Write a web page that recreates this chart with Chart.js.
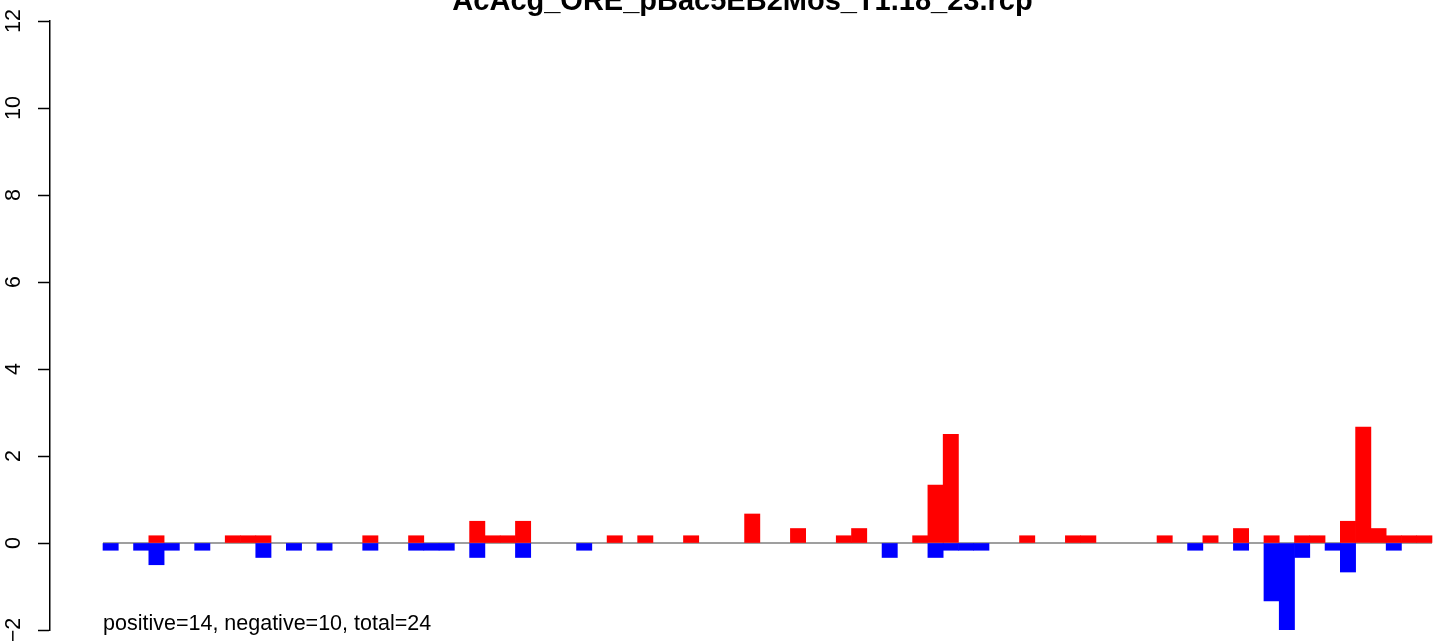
<!DOCTYPE html>
<html>
<head>
<meta charset="utf-8">
<script src="https://cdn.jsdelivr.net/npm/chart.js@4.4.1/dist/chart.umd.min.js"></script>
<style>
  html, body { margin: 0; padding: 0; background: #fff; overflow: hidden; width: 1447px; height: 641px; }
  #wrap { position: absolute; left: 0; top: -15px; }
</style>
</head>
<body>
<div id="wrap"><canvas id="chart" width="1534" height="675"></canvas></div>
<script>
// --- DATA ---
const chartTitle = 'AcAcg_ORE_pBac5EB2Mos_T1.18_23.rcp';
const summaryText = 'positive=14, negative=10, total=24';

// one value per bin, bins 0..86
const positiveVals = [
  0, 0, 0, 0.167, 0, 0, 0, 0, 0.167, 0.167,
  0.167, 0, 0, 0, 0, 0, 0, 0.167, 0, 0,
  0.167, 0, 0, 0, 0.5, 0.167, 0.167, 0.5, 0, 0,
  0, 0, 0, 0.167, 0, 0.167, 0, 0, 0.167, 0,
  0, 0, 0.667, 0, 0, 0.333, 0, 0, 0.167, 0.333,
  0, 0, 0, 0.167, 1.333, 2.5, 0, 0, 0, 0,
  0.167, 0, 0, 0.167, 0.167, 0, 0, 0, 0, 0.167,
  0, 0, 0.167, 0, 0.333, 0, 0.167, 0, 0.167, 0.167,
  0, 0.5, 2.667, 0.333, 0.167, 0.167, 0.167
];
const negativeVals = [
  -0.167, 0, -0.167, -0.5, -0.167, 0, -0.167, 0, 0, 0,
  -0.333, 0, -0.167, 0, -0.167, 0, 0, -0.167, 0, 0,
  -0.167, -0.167, -0.167, 0, -0.333, 0, 0, -0.333, 0, 0,
  0, -0.167, 0, 0, 0, 0, 0, 0, 0, 0,
  0, 0, 0, 0, 0, 0, 0, 0, 0, 0,
  0, -0.333, 0, 0, -0.333, -0.167, -0.167, -0.167, 0, 0,
  0, 0, 0, 0, 0, 0, 0, 0, 0, 0,
  0, -0.167, 0, 0, -0.167, 0, -1.333, -2, -0.333, 0,
  -0.167, -0.667, 0, 0, -0.167, 0, 0
];
const bins = positiveVals.map((_, i) => i);
const yTicks = [-2, 0, 2, 4, 6, 8, 10, 12];
const xRange = [-3.97, 89.97];

// --- CHART ---
Chart.defaults.font.family = '"Liberation Sans", Arial, Helvetica, sans-serif';
Chart.defaults.color = '#000';

const toPoints = vals => vals.map((v, i) => ({ x: bins[i], y: v === 0 ? null : v }));

const summaryPlugin = {
  id: 'summary',
  afterDatasetsDraw(chart) {
    const { ctx, scales: { x, y } } = chart;
    ctx.save();
    ctx.font = '21.5px "Liberation Sans", Arial, sans-serif';
    ctx.fillStyle = '#000';
    ctx.textAlign = 'left';
    ctx.textBaseline = 'alphabetic';
    ctx.fillText(summaryText, x.getPixelForValue(bins[0] - 0.5), y.getPixelForValue(yTicks[0]));
    ctx.restore();
  }
};

const barOpts = { type: 'bar', grouped: false, barPercentage: 1, categoryPercentage: 1, borderWidth: 0, order: 1 };

new Chart(document.getElementById('chart').getContext('2d'), {
  data: {
    datasets: [
      { ...barOpts, label: 'positive', data: toPoints(positiveVals), backgroundColor: '#ff0000' },
      { ...barOpts, label: 'negative', data: toPoints(negativeVals), backgroundColor: '#0000ff' },
      {
        type: 'line', label: 'zero', order: 3,
        data: [{ x: bins[0] - 0.5, y: 0 }, { x: bins[bins.length - 1] + 0.5, y: 0 }],
        borderColor: '#7f7f7f', borderWidth: 1.5, pointRadius: 0, fill: false
      }
    ]
  },
  options: {
    responsive: false,
    animation: false,
    layout: { padding: { left: 0, right: 49, top: 0, bottom: 30 } },
    plugins: {
      legend: { display: false },
      tooltip: { enabled: false },
      title: {
        display: true, text: chartTitle, color: '#000',
        font: { size: 29, weight: 'bold' },
        padding: { top: 0, bottom: 1.2 }
      }
    },
    scales: {
      x: { type: 'linear', min: xRange[0], max: xRange[1], offset: false, display: false },
      y: {
        min: yTicks[0], max: yTicks[yTicks.length - 1],
        afterBuildTicks: s => { s.ticks = yTicks.map(v => ({ value: v })); },
        afterFit: s => { s.width = 50; },
        border: { display: true, color: '#000', width: 1.5 },
        grid: { drawOnChartArea: false, drawTicks: true, tickLength: 12, tickColor: '#000', tickWidth: 1.5 },
        ticks: {
          color: '#000', font: { size: 21.5 },
          minRotation: 90, maxRotation: 90, crossAlign: 'center', padding: 12,
          callback: v => v < 0 ? '\u2212' + Math.abs(v) : String(v)
        }
      }
    }
  },
  plugins: [summaryPlugin]
});
</script>
</body>
</html>
